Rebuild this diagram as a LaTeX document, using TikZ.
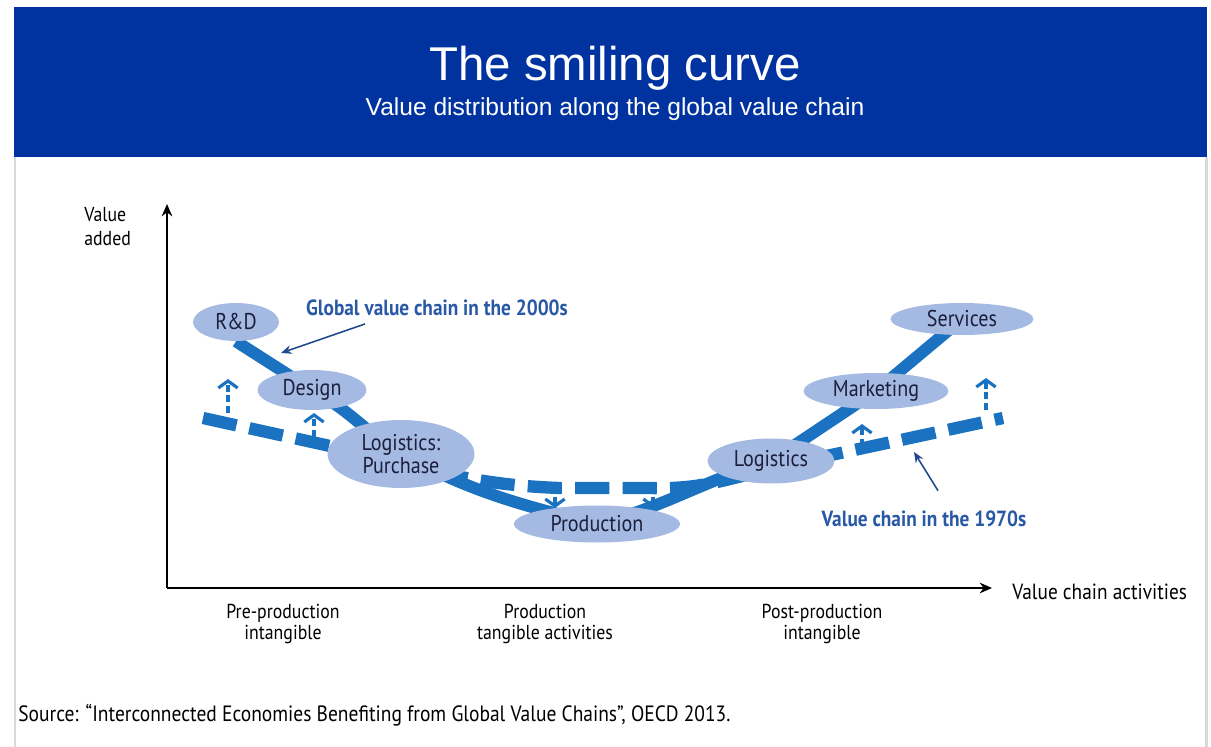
\documentclass[tikz,border=0pt]{standalone}
\usepackage{fontspec}
\setmainfont{Liberation Sans}
\newfontfamily\narrowfont[FakeStretch=0.88]{PT Sans}
\usetikzlibrary{shapes.geometric,arrows.meta,backgrounds}
\definecolor{oecdblue}{RGB}{0,51,160}
\definecolor{curveblue}{RGB}{26,114,192}
\definecolor{stagefill}{RGB}{164,186,226}
\definecolor{stagetext}{RGB}{28,30,60}
\definecolor{notetext}{RGB}{40,88,166}
\definecolor{frameline}{RGB}{218,218,218}
\tikzset{
  stage/.style={ellipse, fill=stagefill, text=stagetext, inner sep=0pt, align=center,
    font=\narrowfont\fontsize{13}{13.5}\selectfont},
  chain00/.style={curveblue, line width=6.8pt},
  chain70/.style={curveblue, line width=7pt, dash pattern=on 19.5pt off 7.5pt},
  shiftarrow/.style={curveblue, line width=1.8pt, dash pattern=on 4pt off 2pt,
    -{Straight Barb[length=4pt,width=11pt,line width=1.8pt]}},
  note/.style={text=notetext, font=\narrowfont\bfseries\fontsize{12.5}{13}\selectfont},
  notearrow/.style={notetext!85!black, line width=0.9pt, -{Stealth[length=6pt,width=5pt]}},
  axislabel/.style={align=center, font=\narrowfont\fontsize{11.5}{12.5}\selectfont}
}
\begin{document}
\begin{tikzpicture}[x=0.02cm, y=-0.02cm, line join=round]
\useasboundingbox (0,0) rectangle (1211,747);
% header and frame
\fill[oecdblue] (14,7) rectangle (1207,157);
\draw[frameline, line width=1.7pt] (15,157) -- (15,747) (1206,157) -- (1206,747);
\node[anchor=base, text=white, font=\fontsize{27}{30}\selectfont] (title) at (615,80) {The smiling curve};
\node[anchor=base, text=white, font=\fontsize{14}{16}\selectfont] (subtitle) at (615,115) {Value distribution along the global value chain};

% stages
\node[stage, minimum width=1.72cm, minimum height=0.76cm] (rd) at (236,322) {R\&D};
\node[stage, minimum width=2.18cm, minimum height=0.80cm] (design) at (312,390) {Design};
\node[stage, minimum width=2.94cm, minimum height=1.36cm] (lp) at (401,454) {Logistics:\\Purchase};
\node[stage, minimum width=3.32cm, minimum height=0.74cm] (prod) at (597,524) {Production};
\node[stage, minimum width=2.54cm, minimum height=0.90cm] (logr) at (771,461) {Logistics};
\node[stage, minimum width=2.90cm, minimum height=0.72cm] (mkt) at (876,391) {Marketing};
\node[stage, minimum width=2.86cm, minimum height=0.64cm] (serv) at (962,319) {Services};

\begin{scope}[on background layer]
  % value chain in the 1970s
  \draw[chain70] (203,418) -- (330,446) to[out=-13,in=178] (560,488) -- (650,488)
    to[out=-2,in=-166] (780,466) -- (1003,418);
  % global value chain in the 2000s
  \draw[chain00] (rd.south) -- (design.center) to[out=-28,in=148] (lp.center)
    to[out=-28,in=166] (prod.center) to[out=14,in=-164] (logr.center)
    -- (mkt.center) -- (serv.center);
\end{scope}

% shifts between the two chains
\draw[shiftarrow] (228,413) -- (228,379);
\draw[shiftarrow] (314,437) -- (314,413);
\draw[shiftarrow] (555,486) -- (555,508);
\draw[shiftarrow] (653,486) -- (653,508);
\draw[shiftarrow] (862,446) -- (862,424);
\draw[shiftarrow] (986,410) -- (986,378);

% notes
\node[note, anchor=west] (g2000) at (300,308) {Global value chain in the 2000s};
\coordinate (tip00) at (281,353);
\draw[notearrow] ([xshift=37pt,yshift=-1pt]g2000.south west) -- (tip00);
\node[note] (g1970) at (924,519) {Value chain in the 1970s};
\coordinate (tip70) at (914,452);
\draw[notearrow] ([xshift=8pt,yshift=8pt]g1970.north) -- (tip70);

% axes
\coordinate (origin) at (167,588);
\coordinate (ytop) at (167,204);
\coordinate (xend) at (992,588);
\draw[line width=1.1pt, -{Stealth[length=7pt,width=6pt]}] (origin) -- (ytop);
\draw[line width=1.1pt, -{Stealth[length=7pt,width=6pt]}] (origin) -- (xend);
\node[axislabel, anchor=north west, align=left, inner sep=0pt, font=\narrowfont\fontsize{11.5}{13.6}\selectfont] (ylabel) at (84,207) {Value\\added};
\node[axislabel, anchor=west, inner sep=0pt, font=\narrowfont\fontsize{12.5}{13}\selectfont] (xlabel) at (1012,592) {Value chain activities};
\node[axislabel] (pre) at (283,624) {Pre-production\\intangible};
\node[axislabel] (mid) at (545,624) {Production\\tangible activities};
\node[axislabel] (post) at (822,624) {Post-production\\intangible};

% source
\node[anchor=west, inner sep=0pt, font=\narrowfont\fontsize{12.6}{13}\selectfont] (source) at (18,715)
  {Source: “Interconnected Economies Benefiting from Global Value Chains”, OECD 2013.};
\end{tikzpicture}
\end{document}
